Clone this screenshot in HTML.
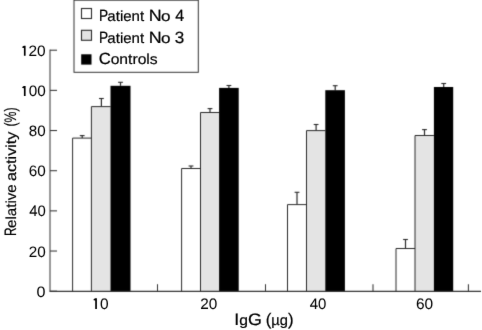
<!DOCTYPE html>
<html><head><meta charset="utf-8"><style>
html,body{margin:0;padding:0;background:#fff;}
body{width:482px;height:330px;overflow:hidden;}
svg{display:block;}
svg text{font-family:"Liberation Sans",sans-serif;}
</style></head><body>
<svg width="482" height="330" viewBox="0 0 482 330">
<defs><filter id="bl" x="0" y="0" width="482" height="330" filterUnits="userSpaceOnUse" color-interpolation-filters="sRGB"><feConvolveMatrix order="3" kernelMatrix="0.0144 0.0912 0.0144 0.0912 0.5776 0.0912 0.0144 0.0912 0.0144" edgeMode="duplicate" preserveAlpha="true"/></filter><filter id="bt" x="0" y="0" width="482" height="330" filterUnits="userSpaceOnUse" color-interpolation-filters="sRGB"><feConvolveMatrix order="3" kernelMatrix="0.0036 0.0528 0.0036 0.0528 0.7744 0.0528 0.0036 0.0528 0.0036" edgeMode="duplicate" preserveAlpha="false"/></filter></defs>
<g filter="url(#bl)">
<rect width="482" height="330" fill="#fff"/>
<line x1="82.2" y1="138.1" x2="82.2" y2="135.6" stroke="#2a2a2a" stroke-width="1.2"/>
<line x1="79.80" y1="135.6" x2="84.60" y2="135.6" stroke="#2a2a2a" stroke-width="1.1"/>
<line x1="101.4" y1="106.6" x2="101.4" y2="98.5" stroke="#2a2a2a" stroke-width="1.2"/>
<line x1="99.00" y1="98.5" x2="103.80" y2="98.5" stroke="#2a2a2a" stroke-width="1.1"/>
<line x1="120.5" y1="85.8" x2="120.5" y2="82.3" stroke="#2a2a2a" stroke-width="1.2"/>
<line x1="118.10" y1="82.3" x2="122.90" y2="82.3" stroke="#2a2a2a" stroke-width="1.1"/>
<rect x="72.6" y="138.1" width="18.80" height="152.90" fill="#fff"/>
<rect x="91.4" y="106.6" width="19.10" height="184.40" fill="#e4e4e4"/>
<path d="M72.6 291.0V138.1H91.4M91.4 291.0V106.6H110.5" fill="none" stroke="#2a2a2a" stroke-width="1.0"/>
<rect x="110.5" y="85.8" width="20.00" height="205.20" fill="#000"/>
<line x1="191.0" y1="168.5" x2="191.0" y2="166.0" stroke="#2a2a2a" stroke-width="1.2"/>
<line x1="188.60" y1="166.0" x2="193.40" y2="166.0" stroke="#2a2a2a" stroke-width="1.1"/>
<line x1="210.0" y1="112.5" x2="210.0" y2="108.6" stroke="#2a2a2a" stroke-width="1.2"/>
<line x1="207.60" y1="108.6" x2="212.40" y2="108.6" stroke="#2a2a2a" stroke-width="1.1"/>
<line x1="228.9" y1="87.9" x2="228.9" y2="85.5" stroke="#2a2a2a" stroke-width="1.2"/>
<line x1="226.50" y1="85.5" x2="231.30" y2="85.5" stroke="#2a2a2a" stroke-width="1.1"/>
<rect x="181.6" y="168.5" width="18.90" height="122.50" fill="#fff"/>
<rect x="200.5" y="112.5" width="18.60" height="178.50" fill="#e4e4e4"/>
<path d="M181.6 291.0V168.5H200.5M200.5 291.0V112.5H219.1" fill="none" stroke="#2a2a2a" stroke-width="1.0"/>
<rect x="219.1" y="87.9" width="19.60" height="203.10" fill="#000"/>
<line x1="297.0" y1="204.6" x2="297.0" y2="192.3" stroke="#2a2a2a" stroke-width="1.2"/>
<line x1="294.60" y1="192.3" x2="299.40" y2="192.3" stroke="#2a2a2a" stroke-width="1.1"/>
<line x1="316.1" y1="130.6" x2="316.1" y2="124.5" stroke="#2a2a2a" stroke-width="1.2"/>
<line x1="313.70" y1="124.5" x2="318.50" y2="124.5" stroke="#2a2a2a" stroke-width="1.1"/>
<line x1="335.2" y1="90.2" x2="335.2" y2="85.7" stroke="#2a2a2a" stroke-width="1.2"/>
<line x1="332.80" y1="85.7" x2="337.60" y2="85.7" stroke="#2a2a2a" stroke-width="1.1"/>
<rect x="287.5" y="204.6" width="19.00" height="86.40" fill="#fff"/>
<rect x="306.5" y="130.6" width="18.80" height="160.40" fill="#e4e4e4"/>
<path d="M287.5 291.0V204.6H306.5M306.5 291.0V130.6H325.3" fill="none" stroke="#2a2a2a" stroke-width="1.0"/>
<rect x="325.3" y="90.2" width="19.60" height="200.80" fill="#000"/>
<line x1="405.5" y1="248.5" x2="405.5" y2="239.5" stroke="#2a2a2a" stroke-width="1.2"/>
<line x1="403.10" y1="239.5" x2="407.90" y2="239.5" stroke="#2a2a2a" stroke-width="1.1"/>
<line x1="424.5" y1="135.5" x2="424.5" y2="129.6" stroke="#2a2a2a" stroke-width="1.2"/>
<line x1="422.10" y1="129.6" x2="426.90" y2="129.6" stroke="#2a2a2a" stroke-width="1.1"/>
<line x1="443.7" y1="87.0" x2="443.7" y2="83.5" stroke="#2a2a2a" stroke-width="1.2"/>
<line x1="441.30" y1="83.5" x2="446.10" y2="83.5" stroke="#2a2a2a" stroke-width="1.1"/>
<rect x="396.0" y="248.5" width="19.00" height="42.50" fill="#fff"/>
<rect x="415.0" y="135.5" width="18.90" height="155.50" fill="#e4e4e4"/>
<path d="M396.0 291.0V248.5H415.0M415.0 291.0V135.5H433.9" fill="none" stroke="#2a2a2a" stroke-width="1.0"/>
<rect x="433.9" y="87.0" width="19.30" height="204.00" fill="#000"/>
<line x1="50" y1="49.6" x2="50" y2="291.3" stroke="#333" stroke-width="1"/>
<line x1="49.5" y1="291.35" x2="481" y2="291.35" stroke="#333" stroke-width="1.1"/>
<line x1="50" y1="291.20" x2="57" y2="291.20" stroke="#333" stroke-width="1.05"/>
<line x1="50" y1="251.03" x2="57" y2="251.03" stroke="#333" stroke-width="1.05"/>
<line x1="50" y1="210.87" x2="57" y2="210.87" stroke="#333" stroke-width="1.05"/>
<line x1="50" y1="170.70" x2="57" y2="170.70" stroke="#333" stroke-width="1.05"/>
<line x1="50" y1="130.53" x2="57" y2="130.53" stroke="#333" stroke-width="1.05"/>
<line x1="50" y1="90.37" x2="57" y2="90.37" stroke="#333" stroke-width="1.05"/>
<line x1="50" y1="50.20" x2="57" y2="50.20" stroke="#333" stroke-width="1.05"/>
<line x1="157.5" y1="284.2" x2="157.5" y2="291.0" stroke="#333" stroke-width="1.05"/>
<line x1="265.5" y1="284.2" x2="265.5" y2="291.0" stroke="#333" stroke-width="1.05"/>
<line x1="373" y1="284.2" x2="373" y2="291.0" stroke="#333" stroke-width="1.05"/>
<line x1="468.4" y1="284.2" x2="468.4" y2="291.0" stroke="#333" stroke-width="1.05"/>
<rect x="74" y="0.2" width="124.3" height="72.1" fill="#fff" stroke="#333" stroke-width="1"/>
<rect x="81.5" y="8.5" width="10" height="10" fill="#fff" stroke="#2a2a2a" stroke-width="1.1"/>
<rect x="81.5" y="30.3" width="10" height="10" fill="#e4e4e4" stroke="#2a2a2a" stroke-width="1.1"/>
<rect x="81.2" y="54.3" width="10.3" height="10.3" fill="#000"/>

</g>
<g filter="url(#bt)">
<g font-family="Liberation Sans, sans-serif" text-rendering="geometricPrecision" fill="#000" stroke="#000" stroke-width="0.2">
<text transform="translate(99.07,20.75) scale(0.8415,1.0)"><tspan font-size="16.3">P</tspan></text>
<text transform="translate(107.36,20.75) scale(1.0289,1.0)"><tspan font-size="14.6">atient</tspan></text>
<text transform="translate(148.63,20.75) scale(1.0983,1.0)"><tspan font-size="16.3">N</tspan></text>
<text transform="translate(160.98,20.75) scale(1.1750,1.0)"><tspan font-size="14.6">o</tspan></text>
<text transform="translate(175.13,20.75) scale(0.9862,1.0)"><tspan font-size="16.3">4</tspan></text>
<text transform="translate(99.07,42.5) scale(0.8415,1.0)"><tspan font-size="16.3">P</tspan></text>
<text transform="translate(107.36,42.5) scale(1.0289,1.0)"><tspan font-size="14.6">atient</tspan></text>
<text transform="translate(148.63,42.5) scale(1.0983,1.0)"><tspan font-size="16.3">N</tspan></text>
<text transform="translate(160.98,42.5) scale(1.1750,1.0)"><tspan font-size="14.6">o</tspan></text>
<text transform="translate(174.85,42.5) scale(1.0481,1.0)"><tspan font-size="16.3">3</tspan></text>
<text transform="translate(98.85,64.35) scale(1.0269,1.0)"><tspan font-size="16.3">C</tspan></text>
<text transform="translate(110.64,64.35) scale(1.0731,1.0)"><tspan font-size="14.6">ontrols</tspan></text>
<text transform="translate(36.52,296.8) scale(1.0667,1.0)" stroke-width="0.05"><tspan font-size="15.1">0</tspan></text>
<text transform="translate(28.73,256.63) scale(1.0099,1.0)" stroke-width="0.05"><tspan font-size="15.1">20</tspan></text>
<text transform="translate(29.16,216.47) scale(0.9836,1.0)" stroke-width="0.05"><tspan font-size="15.1">40</tspan></text>
<text transform="translate(28.73,176.3) scale(1.0104,1.0)" stroke-width="0.05"><tspan font-size="15.1">60</tspan></text>
<text transform="translate(28.84,136.13) scale(1.0032,1.0)" stroke-width="0.05"><tspan font-size="15.1">80</tspan></text>
<path d="M23.90 85.93H25.60V95.97H23.90V88.23L22.30 87.93V87.03Z" stroke="none"/>
<text transform="translate(28.70,95.97) scale(1.0118,1.0)" stroke-width="0.05"><tspan font-size="15.1">00</tspan></text>
<path d="M23.90 45.76H25.60V55.80H23.90V48.06L22.30 47.76V46.86Z" stroke="none"/>
<text transform="translate(28.52,55.8) scale(1.0229,1.0)" stroke-width="0.05"><tspan font-size="15.1">20</tspan></text>
<path d="M95.20 298.24H96.90V309.00H95.20V300.54L93.60 300.24V299.34Z" stroke="none"/>
<text transform="translate(100.10,309.0) scale(1.0184,1.0)" stroke-width="0.05"><tspan font-size="15.2">0</tspan></text>
<text transform="translate(200.23,309.0) scale(1.0097,1.0)" stroke-width="0.05"><tspan font-size="15.2">20</tspan></text>
<text transform="translate(309.66,309.0) scale(0.9834,1.0)" stroke-width="0.05"><tspan font-size="15.2">40</tspan></text>
<text transform="translate(415.92,309.0) scale(1.0166,1.0)" stroke-width="0.05"><tspan font-size="15.2">60</tspan></text>
<text transform="translate(234.35,324.8) scale(1.0782,1.0)"><tspan font-size="16.6">I</tspan><tspan font-size="14.5">g</tspan><tspan font-size="16.6">G</tspan></text>
<text transform="translate(265.76,324.8) scale(1.0112,1.0)"><tspan font-size="16.6">(</tspan><tspan font-size="14.5">&#181;g</tspan><tspan font-size="16.6">)</tspan></text>
<text transform="translate(15.9,235.97) rotate(-90) scale(0.7102,1.0)"><tspan font-size="16.6">R</tspan></text>
<text transform="translate(15.9,227.94) rotate(-90) scale(1.0430,1.0)"><tspan font-size="14.5">elative</tspan></text>
<text transform="translate(15.9,180.88) rotate(-90) scale(1.1083,1.0)"><tspan font-size="14.5">activity</tspan></text>
<text transform="translate(15.9,126.57) rotate(-90) scale(0.7450,1.0)"><tspan font-size="16.6">(%)</tspan></text>
</g></g>
</svg>
</body></html>
